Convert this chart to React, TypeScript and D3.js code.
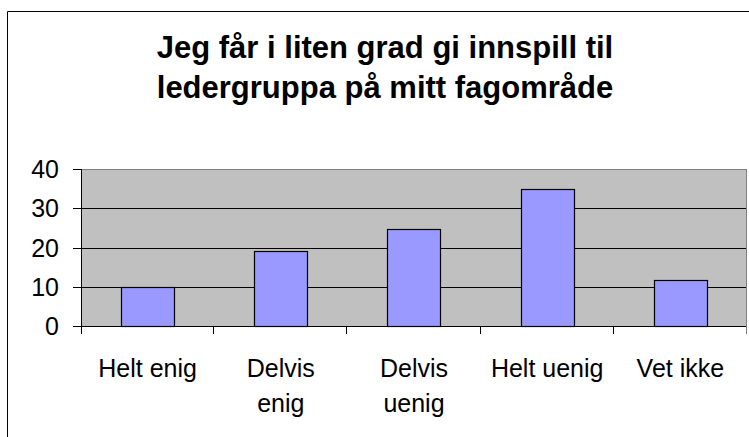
import React from "react";
import * as d3 from "d3";

const title = ["Jeg får i liten grad gi innspill til", "ledergruppa på mitt fagområde"];
const categories = ["Helt enig", "Delvis enig", "Delvis uenig", "Helt uenig", "Vet ikke"];
const categoryLines = [["Helt enig"], ["Delvis", "enig"], ["Delvis", "uenig"], ["Helt uenig"], ["Vet ikke"]];
const values = [10, 19.1, 24.6, 35, 11.7];
const yTicks = [0, 10, 20, 30, 40];

const W = 749;
const H = 437;
const plot = { left: 81, right: 747, top: 169, bottom: 326 };
const font = "Arial, 'Liberation Sans', Helvetica, sans-serif";

export default function App() {
  const x = d3.scaleBand<string>().domain(categories).range([plot.left, plot.right]).paddingInner(0).paddingOuter(0);
  const y = d3.scaleLinear().domain([0, 40]).range([plot.bottom, plot.top]);
  const bw = x.bandwidth() * 0.4;
  const tickEdges = categories.map((c) => x(c)!).concat([plot.right]);

  return (
    <svg width={W} height={H} style={{ position: "absolute", left: 0, top: 0, display: "block" }}>
      <rect x={0} y={0} width={W} height={H} fill="#fff" />
      <line x1={7.5} y1={11.5} x2={W + 10} y2={11.5} stroke="#000" />
      <line x1={7.5} y1={11.5} x2={7.5} y2={H + 10} stroke="#000" />
      {title.map((t, i) => (
        <text key={i} x={385} y={58 + i * 40} textAnchor="middle" fontFamily={font} fontWeight="bold" fontSize={31} fill="#000">
          {t}
        </text>
      ))}
      <rect x={plot.left} y={plot.top} width={plot.right - plot.left} height={plot.bottom - plot.top} fill="#c0c0c0" />
      {yTicks.slice(1, -1).map((v) => (
        <line key={v} x1={plot.left} x2={plot.right} y1={Math.round(y(v)) + 0.5} y2={Math.round(y(v)) + 0.5} stroke="#000" />
      ))}
      <line x1={plot.left} x2={plot.right} y1={plot.top + 0.5} y2={plot.top + 0.5} stroke="#808080" />
      <line x1={plot.right - 0.5} x2={plot.right - 0.5} y1={plot.top} y2={plot.bottom} stroke="#808080" />
      {categories.map((c, i) => {
        const cx = x(c)! + x.bandwidth() / 2;
        const top = y(values[i]);
        return (
          <rect key={c} x={Math.round(cx - bw / 2) + 0.5} y={Math.round(top) + 0.5} width={Math.round(bw)} height={Math.round(plot.bottom - top)} fill="#9999ff" stroke="#000" strokeWidth={1.2} />
        );
      })}
      <line x1={plot.left + 0.5} x2={plot.left + 0.5} y1={plot.top} y2={plot.bottom + 8} stroke="#000" />
      <line x1={plot.left} x2={plot.right} y1={plot.bottom + 0.5} y2={plot.bottom + 0.5} stroke="#000" />
      {yTicks.map((v) => (
        <g key={v}>
          <line x1={plot.left - 8} x2={plot.left} y1={Math.round(y(v)) + 0.5} y2={Math.round(y(v)) + 0.5} stroke="#000" />
          <text x={59} y={y(v) + 9} textAnchor="end" fontFamily={font} fontSize={25} fill="#000">
            {v}
          </text>
        </g>
      ))}
      {tickEdges.map((ex, i) => (
        <line key={i} x1={Math.round(ex) - 0.5 + (i === 0 ? 1 : 0)} x2={Math.round(ex) - 0.5 + (i === 0 ? 1 : 0)} y1={plot.bottom} y2={plot.bottom + 8} stroke={i === tickEdges.length - 1 ? "#808080" : "#000"} />
      ))}
      {categories.map((c, i) => {
        const cx = x(c)! + x.bandwidth() / 2;
        return (
          <text key={c} x={cx} textAnchor="middle" fontFamily={font} fontSize={25} fill="#000">
            {categoryLines[i].map((l, j) => (
              <tspan key={j} x={cx} y={377 + j * 35}>
                {l}
              </tspan>
            ))}
          </text>
        );
      })}
    </svg>
  );
}
